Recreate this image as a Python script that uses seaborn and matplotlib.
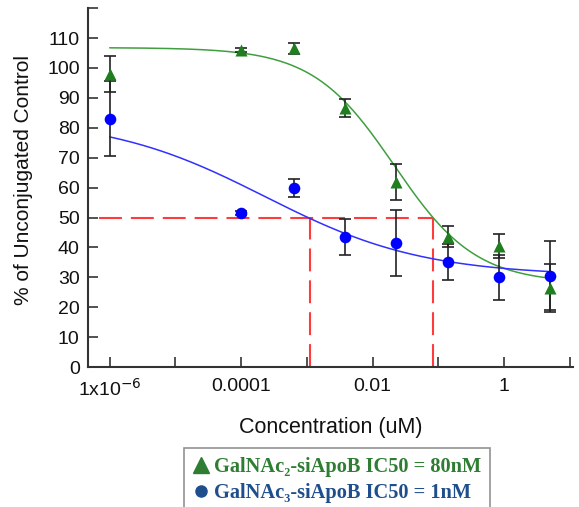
import numpy as np
import pandas as pd
import matplotlib
matplotlib.use("Agg")
import matplotlib.pyplot as plt
from matplotlib.lines import Line2D
import seaborn as sns

# Data
conc = [1e-6, 1e-4, 6.3e-4, 3.8e-3, 0.023, 0.138, 0.83, 5.0]
galnac2_mean = [98, 106, 106.5, 86.5, 62, 43.6, 40.5, 26.5]
galnac2_err = [6, 0.8, 2, 3, 6, 3.5, 4, 8]
galnac3_mean = [83, 51.5, 59.8, 43.6, 41.6, 35, 30, 30.5]
galnac3_err = [12.5, 0.8, 3, 6, 11, 6, 7.5, 11.5]

# 4-parameter logistic fit parameters (top, bottom, c, hill)
fit2 = (106.8, 28, 0.0213, 0.7)
fit3 = (83.5, 30.5, 2.3e-4, 0.36)
ic50 = [0.0011, 0.083]

y_ticks = list(range(0, 130, 10))
y_ticklabels = [str(v) for v in range(0, 120, 10)] + [""]
x_ticks = [1e-6, 1e-5, 1e-4, 1e-3, 1e-2, 1e-1, 1, 10]
x_ticklabels = [r"1x10$^{-6}$", "", "0.0001", "", "0.01", "", "1", ""]


def logistic(x, top, bottom, c, h):
    return bottom + (top - bottom) / (1 + (x / c) ** h)


sns.set_style("ticks")
plt.rcParams["font.family"] = ["Liberation Sans", "DejaVu Sans"]

fig = plt.figure(figsize=(5.79, 5.07), dpi=100)
ax = fig.add_axes([0.152, 0.276, 0.838, 0.708])

df = pd.DataFrame({"conc": conc, "g2": galnac2_mean, "g2e": galnac2_err,
                   "g3": galnac3_mean, "g3e": galnac3_err})

xs = np.logspace(-6, np.log10(5.0), 200)
curves = pd.DataFrame({"x": xs, "y2": logistic(xs, *fit2), "y3": logistic(xs, *fit3)})

green_line = "#3f9f3f"
blue_line = "#3030ff"
green_pt = "#1f7f1f"
blue_pt = "#0000ff"

# IC50 guide lines
red = "#ff3b3b"
ax.plot([10 ** -6.17, ic50[1]], [50, 50], color=red, lw=1.5, dashes=(11, 4.3), zorder=1)
for xv in ic50:
    ax.plot([xv, xv], [0, 50], color=red, lw=1.5, dashes=(11, 4.3), zorder=1)

sns.lineplot(data=curves, x="x", y="y2", color=green_line, lw=1.1, ax=ax, zorder=2)
sns.lineplot(data=curves, x="x", y="y3", color=blue_line, lw=1.1, ax=ax, zorder=2)

ax.errorbar(df["conc"], df["g2"], yerr=df["g2e"], fmt="none", ecolor="#222222",
            elinewidth=1.2, capsize=4.5, capthick=1.2, zorder=3)
ax.errorbar(df["conc"], df["g3"], yerr=df["g3e"], fmt="none", ecolor="#222222",
            elinewidth=1.2, capsize=4.5, capthick=1.2, zorder=3)

sns.scatterplot(data=df, x="conc", y="g2", marker="^", s=75, color=green_pt,
                edgecolor=green_pt, linewidth=0, ax=ax, zorder=4)
sns.scatterplot(data=df, x="conc", y="g3", marker="o", s=70, color=blue_pt,
                edgecolor=blue_pt, linewidth=0, ax=ax, zorder=4)

ax.set_xscale("log")
ax.set_xlim(10 ** -6.33, 10 ** 1.05)
ax.set_ylim(0, 120)
ax.set_xticks(x_ticks)
ax.set_xticklabels(x_ticklabels)
ax.minorticks_off()
ax.set_yticks(y_ticks)
ax.set_yticklabels(y_ticklabels)
ax.tick_params(direction="in", length=7, width=1.2, labelsize=14, colors="#333333",
               labelcolor="#111111", pad=6)
ax.tick_params(axis="x", pad=8)

for side in ["top", "right"]:
    ax.spines[side].set_visible(False)
for side in ["left", "bottom"]:
    ax.spines[side].set_linewidth(1.5)
    ax.spines[side].set_color("#333333")

ax.set_xlabel("Concentration (uM)", fontsize=15.5, color="#111111", labelpad=12)
ax.set_ylabel("% of Unconjugated Control", fontsize=15, color="#111111")
ax.yaxis.set_label_coords(-0.113, 0.52)

# Legend below the plot
handles = [Line2D([], [], marker="^", ls="none", color="#2e7d32", markersize=11),
           Line2D([], [], marker="o", ls="none", color="#1f4e8c", markersize=8)]
labels = ["GalNAc\u2082-siApoB IC50 = 80nM", "GalNAc\u2083-siApoB IC50 = 1nM"]
leg = fig.legend(handles, labels, loc="upper left", bbox_to_anchor=(0.318, 0.117),
                 frameon=True, fancybox=False, handlelength=0.8, handletextpad=0.22,
                 borderpad=0.45, labelspacing=0.3, borderaxespad=0,
                 prop={"family": ["Liberation Serif", "DejaVu Serif"], "weight": "bold", "size": 14.7})
leg.get_frame().set_edgecolor("#777777")
leg.get_frame().set_linewidth(1.2)
for txt, col in zip(leg.get_texts(), ["#2e7d32", "#1f4e8c"]):
    txt.set_color(col)

fig.savefig("out.png", dpi=100)
